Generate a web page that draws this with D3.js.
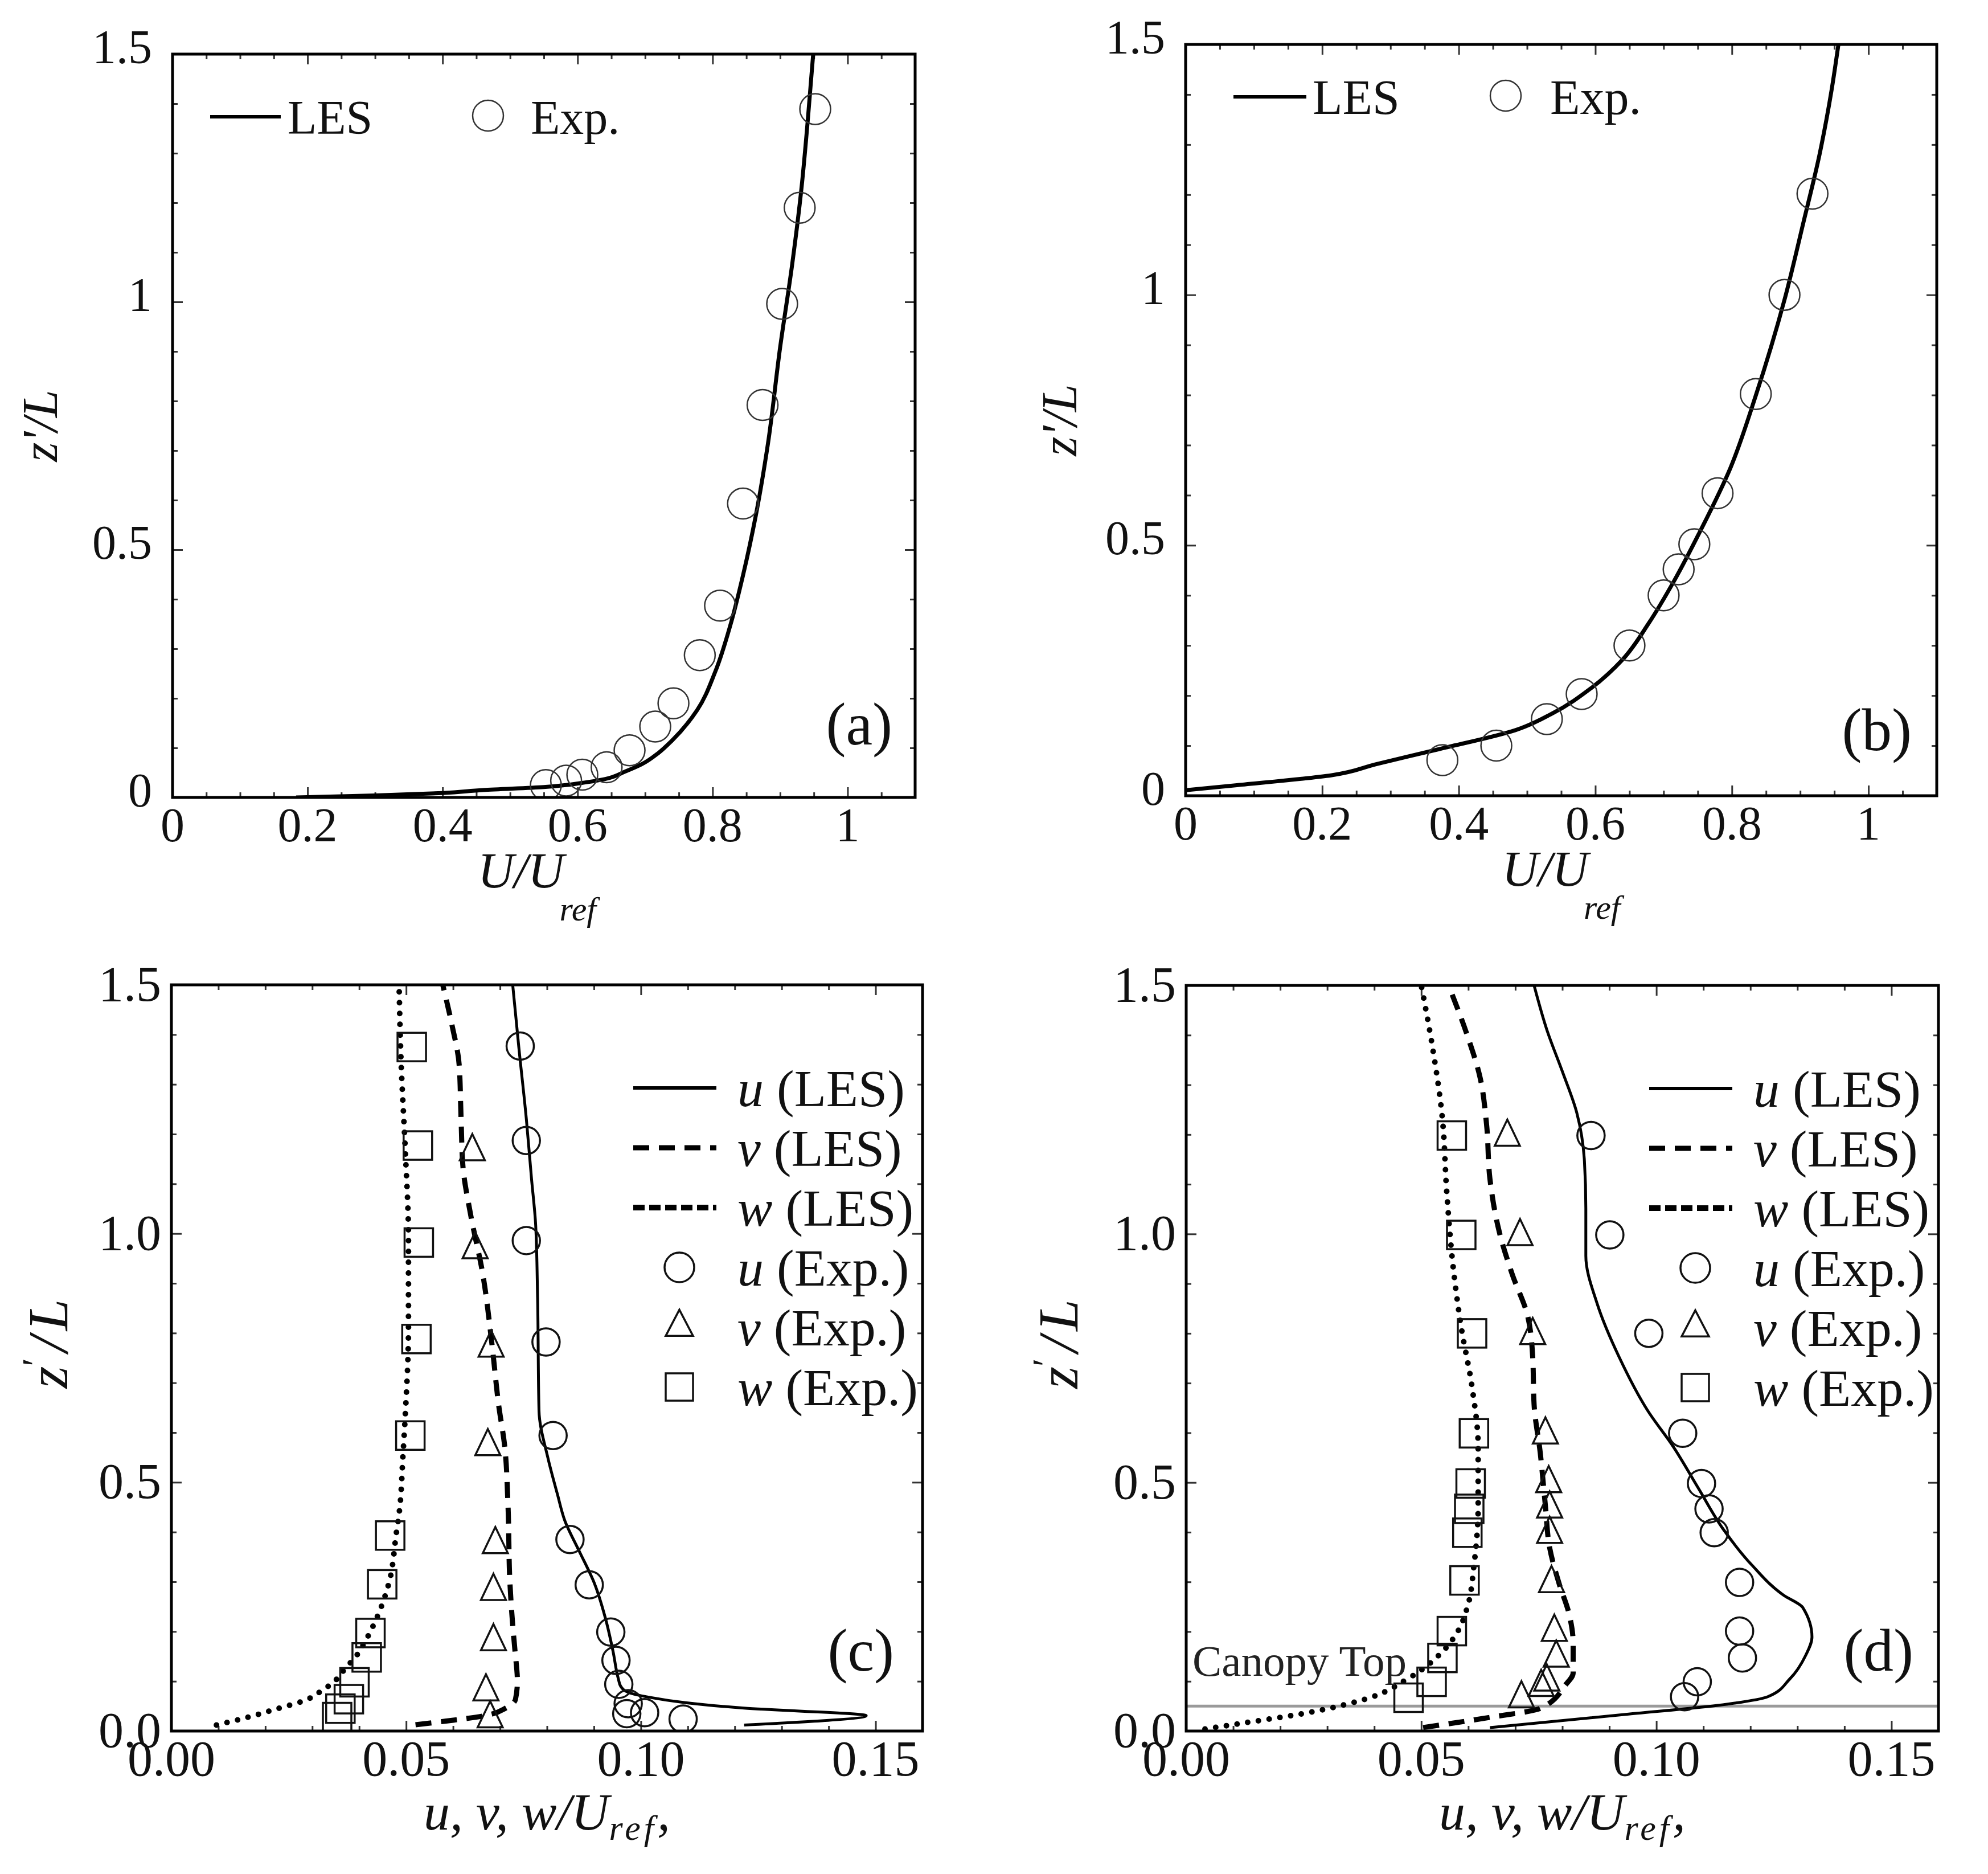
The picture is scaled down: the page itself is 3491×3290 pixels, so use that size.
<!DOCTYPE html>
<html>
<head>
<meta charset="utf-8">
<script src="https://cdn.jsdelivr.net/npm/d3@7"></script>
<style>
  body { margin: 0; background: #fff; }
  text { font-family: "Liberation Serif", "Times New Roman", serif; fill: #111; white-space: pre; }
  .tk path { display: none; }
  .tk line { stroke: #333; stroke-width: 3; }
</style>
</head>
<body>
<div id="fig"></div>
<script>
// ---------- tick labels ----------
var xTicksAB = [0, 0.2, 0.4, 0.6, 0.8, 1];
var yTicksAB = [0, 0.5, 1, 1.5];
var xTicksCD = [0, 0.05, 0.10, 0.15];
var yTicksCD = [0, 0.5, 1.0, 1.5];

// ---------- (a) mean velocity, pairs are [U/Uref, z'/L] ----------
var lesA = [[0.183,0.000],[0.30,0.004],[0.40,0.009],[0.46,0.015],[0.55,0.021],[0.61,0.030],[0.64,0.037],
  [0.67,0.052],[0.695,0.067],[0.72,0.090],[0.74,0.115],[0.777,0.176],[0.804,0.254],[0.827,0.351],
  [0.845,0.448],[0.864,0.569],[0.882,0.714],[0.90,0.908],[0.918,1.077],[0.932,1.234],[0.941,1.367],[0.949,1.5]];
var expA = [[0.553,0.025],[0.583,0.034],[0.607,0.046],[0.643,0.061],[0.677,0.095],[0.715,0.143],[0.742,0.19],
  [0.781,0.287],[0.811,0.387],[0.845,0.593],[0.874,0.792],[0.903,0.996],[0.929,1.19],[0.952,1.389]];

// ---------- (b) ----------
var lesB = [[0.0,0.011],[0.075,0.021],[0.214,0.041],[0.279,0.063],[0.371,0.093],[0.483,0.131],[0.538,0.165],
  [0.594,0.215],[0.64,0.272],[0.678,0.344],[0.715,0.428],[0.752,0.524],[0.798,0.655],[0.835,0.799],
  [0.877,0.99],[0.905,1.146],[0.928,1.278],[0.946,1.409],[0.956,1.5]];
var expB = [[0.376,0.071],[0.455,0.10],[0.529,0.153],[0.58,0.203],[0.65,0.30],[0.70,0.40],[0.722,0.452],
  [0.745,0.502],[0.779,0.604],[0.835,0.802],[0.877,1.0],[0.918,1.202]];

// ---------- (c) turbulence intensities, pairs are [u/Uref, z'/L] ----------
var uLesC = [[0.122,0.012],[0.148,0.031],[0.122,0.046],[0.1095,0.057],[0.1017,0.068],[0.0975,0.077],
  [0.0957,0.09],[0.0952,0.105],[0.0941,0.159],[0.0925,0.225],[0.0901,0.297],[0.0868,0.363],[0.0838,0.423],
  [0.0822,0.477],[0.0802,0.549],[0.0783,0.644],[0.078,0.872],[0.0776,1.016],[0.0767,1.111],[0.0756,1.231],
  [0.074,1.375],[0.0727,1.5]];
var vLesC = [[0.052,0.0126],[0.0585,0.02],[0.0663,0.03],[0.0714,0.047],[0.0733,0.064],[0.0737,0.10],
  [0.0732,0.16],[0.0727,0.213],[0.0721,0.30],[0.0717,0.453],[0.071,0.572],[0.0697,0.656],[0.0683,0.776],
  [0.0663,0.92],[0.0637,1.04],[0.0621,1.135],[0.0617,1.231],[0.0613,1.339],[0.0597,1.422],[0.0578,1.5]];
var wLesC = [[0.0096,0.012],[0.0162,0.0275],[0.0228,0.0455],[0.028,0.06],[0.032,0.081],[0.0355,0.107],
  [0.0371,0.127],[0.0388,0.144],[0.0416,0.186],[0.0439,0.231],[0.0464,0.30],[0.0479,0.397],[0.0486,0.445],
  [0.0493,0.55],[0.0498,0.632],[0.0505,0.812],[0.0505,0.992],[0.0498,1.171],[0.0489,1.351],[0.0485,1.5]];
var uExpC = [[0.0743,1.377],[0.0756,1.187],[0.0756,0.986],[0.0798,0.782],[0.0813,0.594],[0.0849,0.385],
  [0.089,0.294],[0.0936,0.199],[0.0947,0.142],[0.0953,0.094],[0.0973,0.055],[0.097,0.035],[0.1008,0.037],[0.109,0.024]];
var vExpC = [[0.0641,1.165],[0.0647,0.968],[0.0681,0.77],[0.0674,0.572],[0.069,0.375],[0.0686,0.281],
  [0.0686,0.18],[0.067,0.079],[0.0679,0.025]];
var wExpC = [[0.0512,1.375],[0.0525,1.177],[0.0527,0.982],[0.0522,0.788],[0.0509,0.594],[0.0466,0.393],
  [0.0449,0.295],[0.0424,0.197],[0.0416,0.148],[0.039,0.098],[0.0378,0.064],[0.036,0.045],[0.0353,0.028]];

// ---------- (d) ----------
var uLesD = [[0.0646,0.007],[0.0941,0.034],[0.113,0.0515],[0.1237,0.069],[0.1284,0.105],[0.1318,0.153],
  [0.1331,0.189],[0.1311,0.249],[0.1271,0.273],[0.1204,0.333],[0.1143,0.405],[0.1089,0.489],[0.1036,0.572],
  [0.0982,0.644],[0.0921,0.752],[0.0874,0.86],[0.085,0.956],[0.085,1.051],[0.0847,1.147],[0.0831,1.243],
  [0.08,1.327],[0.0767,1.411],[0.074,1.5]];
var vLesD = [[0.0504,0.007],[0.0646,0.0275],[0.0753,0.0455],[0.0807,0.093],[0.0823,0.117],[0.0823,0.177],
  [0.0814,0.237],[0.0793,0.297],[0.0773,0.369],[0.0764,0.453],[0.0753,0.56],[0.074,0.656],[0.0737,0.752],
  [0.0726,0.836],[0.0693,0.92],[0.0666,1.004],[0.0646,1.111],[0.0639,1.219],[0.0625,1.315],[0.0598,1.399],[0.0558,1.5]];
var wLesD = [[0.004,0.004],[0.0121,0.016],[0.0242,0.034],[0.0377,0.063],[0.0471,0.105],[0.0538,0.153],
  [0.0578,0.201],[0.0598,0.249],[0.0612,0.333],[0.0621,0.453],[0.0621,0.572],[0.0608,0.692],[0.0585,0.812],
  [0.0568,0.932],[0.0554,1.087],[0.0545,1.231],[0.0524,1.375],[0.05,1.5]];
var uExpD = [[0.0861,1.198],[0.0901,0.998],[0.0984,0.80],[0.1056,0.599],[0.1096,0.498],[0.1112,0.447],
  [0.1123,0.399],[0.1177,0.299],[0.1177,0.201],[0.1183,0.147],[0.1087,0.099],[0.106,0.069]];
var vExpD = [[0.0683,1.195],[0.071,0.995],[0.0737,0.796],[0.0764,0.596],[0.0771,0.498],[0.0773,0.447],
  [0.0773,0.396],[0.0777,0.297],[0.0783,0.199],[0.0787,0.147],[0.0767,0.099],[0.0755,0.088],[0.0713,0.065]];
var wExpD = [[0.0565,1.198],[0.0585,0.998],[0.0608,0.80],[0.0612,0.599],[0.0605,0.498],[0.0602,0.447],
  [0.0598,0.399],[0.0592,0.303],[0.0565,0.201],[0.0545,0.147],[0.0522,0.099],[0.0473,0.067]];
var canopyTop = 0.05;

var width = 3491, height = 3290;
var svg = d3.select("#fig").append("svg")
  .attr("width", width)
  .attr("height", height);

var panels = [
  {id: "a", L: 303, R: 1607, T: 95, B: 1400, xMax: 1.1, xTicks: xTicksAB, yTicks: yTicksAB, xMinor: 0.05,
   xFmt: String, yFmt: String, tag: "(a)"},
  {id: "b", L: 2082, R: 3401, T: 78, B: 1397, xMax: 1.1, xTicks: xTicksAB, yTicks: yTicksAB, xMinor: 0.05,
   xFmt: String, yFmt: String, tag: "(b)"},
  {id: "c", L: 301, R: 1620, T: 1729, B: 3039, xMax: 0.16, xTicks: xTicksCD, yTicks: yTicksCD, xMinor: 0.01,
   xFmt: d3.format(".2f"), yFmt: d3.format(".1f"), tag: "(c)"},
  {id: "d", L: 2083, R: 3404, T: 1730, B: 3039, xMax: 0.16, xTicks: xTicksCD, yTicks: yTicksCD, xMinor: 0.01,
   xFmt: d3.format(".2f"), yFmt: d3.format(".1f"), tag: "(d)"}
];

function notMajor(list) {
  return function(v) { return !list.some(function(t) { return Math.abs(t - v) < 1e-9; }); };
}

function frame(p) {
  var x = d3.scaleLinear().domain([0, p.xMax]).range([p.L, p.R]);
  var y = d3.scaleLinear().domain([0, 1.5]).range([p.B, p.T]);
  var g = svg.append("g").attr("id", "panel-" + p.id);

  var xMinor = d3.range(0, p.xMax + 1e-9, p.xMinor).map(function(v) { return +v.toFixed(4); }).filter(notMajor(p.xTicks));
  var yMinor = d3.range(0, 1.5 + 1e-9, 0.1).map(function(v) { return +v.toFixed(4); }).filter(notMajor(p.yTicks));

  var sides = [
    [d3.axisBottom, x, "translate(0," + p.B + ")", p.xTicks, xMinor],
    [d3.axisTop, x, "translate(0," + p.T + ")", p.xTicks, xMinor],
    [d3.axisLeft, y, "translate(" + p.L + ",0)", p.yTicks, yMinor],
    [d3.axisRight, y, "translate(" + p.R + ",0)", p.yTicks, yMinor]
  ];
  sides.forEach(function(s) {
    g.append("g").attr("class", "tk").attr("transform", s[2])
      .call(s[0](s[1]).tickValues(s[3]).tickSize(-18).tickSizeOuter(0).tickFormat(""));
    g.append("g").attr("class", "tk").attr("transform", s[2])
      .call(s[0](s[1]).tickValues(s[4]).tickSize(-9).tickSizeOuter(0).tickFormat(""));
  });

  var ab = p.id === "a" || p.id === "b";
  g.selectAll(".xlab").data(p.xTicks).join("text")
    .attr("class", "xlab")
    .attr("x", function(d) { return x(d); })
    .attr("y", p.B + (ab ? 77 : 78))
    .attr("text-anchor", "middle")
    .style("font-size", ab ? "84px" : "88px")
    .text(p.xFmt);
  g.selectAll(".ylab").data(p.yTicks).join("text")
    .attr("class", "ylab")
    .attr("x", p.L - (ab ? 36 : 18))
    .attr("y", function(d) { return y(d) + (ab ? 16 : 28); })
    .attr("text-anchor", "end")
    .style("font-size", ab ? "84px" : "88px")
    .text(p.yFmt);

  g.append("clipPath").attr("id", "clip-" + p.id)
    .append("rect").attr("x", p.L).attr("y", p.T).attr("width", p.R - p.L).attr("height", p.B - p.T);
  var plot = g.append("g").attr("clip-path", "url(#clip-" + p.id + ")");

  g.append("text")
    .attr("x", p.R - (p.id === "a" ? 40 : (p.id === "c" ? 50 : 44)))
    .attr("y", ab ? p.B - (p.id === "a" ? 93 : 80) : p.B - 106)
    .attr("text-anchor", "end")
    .style("font-size", "105px")
    .text(p.tag);

  return {x: x, y: y, g: g, plot: plot, p: p};
}

function drawLine(P, data, style) {
  var line = d3.line()
    .x(function(d) { return P.x(d[0]); })
    .y(function(d) { return P.y(d[1]); })
    .curve(d3.curveMonotoneY);
  P.plot.append("path")
    .datum(data)
    .attr("d", line)
    .attr("fill", "none")
    .attr("stroke", "#000")
    .attr("stroke-width", style.w)
    .attr("stroke-dasharray", style.dash || null)
    .attr("stroke-linecap", style.cap || "butt")
    .attr("stroke-linejoin", "round");
}

function triPath(w, h) {
  return "M0," + (-2 * h / 3) + "L" + (w / 2) + "," + (h / 3) + "L" + (-w / 2) + "," + (h / 3) + "Z";
}

function drawMarkers(P, data, shape, opt) {
  var sel = P.plot.selectAll(null).data(data).enter();
  var m;
  if (shape === "circle") {
    m = sel.append("circle")
      .attr("cx", function(d) { return P.x(d[0]); })
      .attr("cy", function(d) { return P.y(d[1]); })
      .attr("r", opt.r);
  } else if (shape === "square") {
    m = sel.append("rect")
      .attr("x", function(d) { return P.x(d[0]) - 25; })
      .attr("y", function(d) { return P.y(d[1]) - 25; })
      .attr("width", 50).attr("height", 50);
  } else {
    m = sel.append("path")
      .attr("transform", function(d) { return "translate(" + P.x(d[0]) + "," + P.y(d[1]) + ")"; })
      .attr("d", triPath(44, 46));
  }
  m.attr("fill", "none").attr("stroke", opt.color).attr("stroke-width", opt.sw);
}

function drawFrame(P) {
  var p = P.p;
  P.g.append("rect")
    .attr("x", p.L).attr("y", p.T)
    .attr("width", p.R - p.L).attr("height", p.B - p.T)
    .attr("fill", "none").attr("stroke", "#000").attr("stroke-width", 5);
}

var styles = {
  les: {w: 7},
  u: {w: 5},
  v: {w: 9, dash: "28 17"},
  w: {w: 10, dash: "0 19", cap: "round"},
  wLegend: {w: 10, dash: "20 8"}
};

// ---------- top panels ----------
var topSets = [[lesA, expA, {line: [66, 190], text: 202, mark: 554, exp: 629, dy: 110, fs: 84}],
               [lesB, expB, {line: [84, 212], text: 223, mark: 562, exp: 640, dy: 92, fs: 86}]];
[0, 1].forEach(function(i) {
  var P = frame(panels[i]);
  var les = topSets[i][0], exp = topSets[i][1], lg = topSets[i][2];
  drawLine(P, les, styles.les);
  drawMarkers(P, exp, "circle", {r: 27, color: "#333", sw: 2.5});
  drawFrame(P);

  var L = P.p.L, T = P.p.T;
  P.g.append("line")
    .attr("x1", L + lg.line[0]).attr("x2", L + lg.line[1])
    .attr("y1", T + lg.dy).attr("y2", T + lg.dy)
    .attr("stroke", "#000").attr("stroke-width", 6);
  P.g.append("text").attr("x", L + lg.text).attr("y", T + lg.dy + 30)
    .style("font-size", lg.fs + "px").text("LES");
  P.g.append("circle").attr("cx", L + lg.mark).attr("cy", T + lg.dy - 2).attr("r", 27)
    .attr("fill", "none").attr("stroke", "#333").attr("stroke-width", 2.5);
  P.g.append("text").attr("x", L + lg.exp).attr("y", T + lg.dy + 30)
    .style("font-size", lg.fs + "px").text("Exp.");

  // axis titles
  var cx = (P.p.L + P.p.R) / 2 - (i === 0 ? 12 : 0);
  var xt = P.g.append("text").attr("x", cx).attr("y", P.p.B + 158)
    .attr("text-anchor", "middle").style("font-size", "88px").style("font-style", "italic");
  xt.append("tspan").text("U/U");
  xt.append("tspan").attr("dx", -8).attr("dy", 58).style("font-size", "60px").text("ref");

  var ly = (P.p.T + P.p.B) / 2;
  var lx = i === 0 ? 100 : 1890;
  P.g.append("text").attr("transform", "translate(" + lx + "," + ly + ") rotate(-90)")
    .attr("text-anchor", "middle").style("font-size", "88px").style("font-style", "italic")
    .text("z'/L");
});

// ---------- bottom panels ----------
var botSets = [
  {u: uLesC, v: vLesC, w: wLesC, ue: uExpC, ve: vExpC, we: wExpC},
  {u: uLesD, v: vLesD, w: wLesD, ue: uExpD, ve: vExpD, we: wExpD}
];
[2, 3].forEach(function(i) {
  var P = frame(panels[i]);
  var s = botSets[i - 2];

  if (i === 3) {
    P.plot.append("line")
      .attr("x1", P.p.L).attr("x2", P.p.R)
      .attr("y1", P.y(canopyTop)).attr("y2", P.y(canopyTop))
      .attr("stroke", "#9a9a9a").attr("stroke-width", 5);
    P.g.append("text").attr("x", P.p.L + 11).attr("y", 2942)
      .style("font-size", "77px").style("fill", "#222").text("Canopy Top");
  }

  drawLine(P, s.w, styles.w);
  drawLine(P, s.v, styles.v);
  drawLine(P, s.u, styles.u);
  var mk = {r: 24, color: "#111", sw: 3.5};
  drawMarkers(P, s.ue, "circle", mk);
  drawMarkers(P, s.ve, "triangle", mk);
  drawMarkers(P, s.we, "square", mk);
  drawFrame(P);

  // legend
  var R = P.p.R, T = P.p.T;
  var rows = [
    {kind: "line", st: styles.u, sym: "u", lab: " (LES)"},
    {kind: "line", st: styles.v, sym: "v", lab: " (LES)"},
    {kind: "line", st: styles.wLegend, sym: "w", lab: " (LES)"},
    {kind: "circle", sym: "u", lab: " (Exp.)"},
    {kind: "triangle", sym: "v", lab: " (Exp.)"},
    {kind: "square", sym: "w", lab: " (Exp.)"}
  ];
  rows.forEach(function(r, k) {
    var yy = T + 181 + k * 105;
    if (r.kind === "line") {
      P.g.append("line").attr("x1", R - 508).attr("x2", R - 362).attr("y1", yy).attr("y2", yy)
        .attr("stroke", "#000").attr("stroke-width", r.st.w === 5 ? 6 : r.st.w)
        .attr("stroke-dasharray", r.st.dash || null);
    } else if (r.kind === "circle") {
      P.g.append("circle").attr("cx", R - 427).attr("cy", yy).attr("r", 26)
        .attr("fill", "none").attr("stroke", "#111").attr("stroke-width", 3.5);
    } else if (r.kind === "triangle") {
      P.g.append("path").attr("transform", "translate(" + (R - 427) + "," + yy + ")")
        .attr("d", triPath(48, 46)).attr("fill", "none").attr("stroke", "#111").attr("stroke-width", 3.5);
    } else {
      P.g.append("rect").attr("x", R - 451).attr("y", yy - 24).attr("width", 48).attr("height", 48)
        .attr("fill", "none").attr("stroke", "#111").attr("stroke-width", 3.5);
    }
    var t = P.g.append("text").attr("x", R - 325).attr("y", yy + 32).style("font-size", "92px");
    t.append("tspan").style("font-style", "italic").text(r.sym);
    t.append("tspan").text(r.lab);
  });

  // axis titles
  var cx = (P.p.L + P.p.R) / 2;
  var xt = P.g.append("text").attr("x", cx).attr("y", P.p.B + 173)
    .attr("text-anchor", "middle").style("font-size", "92px").style("font-style", "italic");
  xt.append("tspan").text("u, v, w/U");
  xt.append("tspan").attr("dy", 18).style("font-size", "62px").style("letter-spacing", "6px").text("ref");
  xt.append("tspan").attr("dy", -18).text(",");

  var ly = (P.p.T + P.p.B) / 2 - 25;
  var lx = i === 2 ? 118 : 1892;
  var yt = P.g.append("text").attr("transform", "translate(" + lx + "," + ly + ") rotate(-90)")
    .attr("text-anchor", "middle").style("font-size", "100px").style("font-style", "italic");
  yt.append("tspan").text("z");
  yt.append("tspan").attr("dy", -34).style("font-size", "66px").style("font-style", "normal").text("\u2032");
  yt.append("tspan").attr("dy", 34).attr("dx", 10).text("/");
  yt.append("tspan").attr("dx", 10).text("L");
});
</script>
</body>
</html>
